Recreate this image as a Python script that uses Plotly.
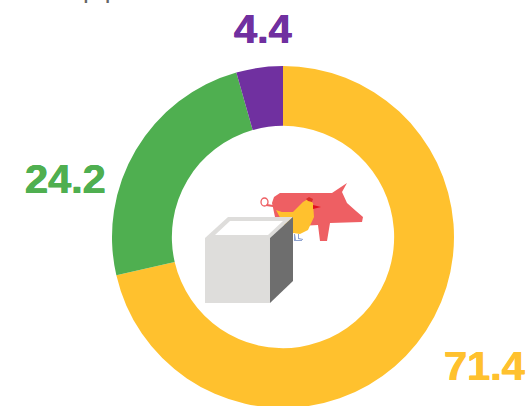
import plotly.graph_objects as go

W, H = 528, 408
labels = ["Yellow", "Green", "Purple"]
values = [71.4, 24.2, 4.4]
colors = ["#FFC12E", "#4FAF50", "#7030A0"]
value_text = ["71.4", "24.2", "4.4"]
text_pos = [(484, 365), (65, 178), (263, 29)]
clipped_title = "p p"
CX, CY, R = 283, 237, 171


def px(x):
    return x / W


def py(y):
    return 1 - y / H


def path(points):
    return "M " + " L ".join(f"{px(x):.5f},{py(y):.5f}" for x, y in points) + " Z"


def shape(points, fill):
    return dict(type="path", xref="paper", yref="paper", path=path(points),
                fillcolor=fill, line=dict(width=0), layer="above")


PIG = [(272, 203), (274, 197), (280, 193), (332, 193), (338, 189), (347, 183), (342, 192), (347, 203),
       (356, 211), (363, 217), (362, 222), (330, 223), (327, 241), (320, 241), (318, 225),
       (300, 226), (283, 224), (275, 217)]
CHICKEN_BODY = [(276, 210), (282, 212), (293, 212), (303, 202), (308, 199), (313, 203), (314, 217),
                (308, 230), (300, 234), (293, 233), (284, 225)]
BEAK = [(313, 205), (321, 207), (313, 209)]
COMB = [(306, 199), (309, 197), (313, 199), (312, 202), (308, 201)]
LEG_A = [(294, 234), (295, 234), (296, 240), (302, 240), (302, 241), (294, 241)]
LEG_B = [(298, 234), (299, 234), (299, 238), (303, 239), (303, 240), (298, 239)]
BOX_FRONT = [(205, 238), (270, 238), (270, 303), (205, 303)]
BOX_TOP = [(205, 238), (228, 217), (293, 217), (270, 238)]
BOX_TOP_IN = [(215, 235), (230, 221), (283, 221), (268, 235)]
BOX_SIDE = [(270, 238), (293, 217), (293, 281), (270, 303)]

shapes = [
    dict(type="circle", xref="paper", yref="paper", layer="above",
         x0=px(261), x1=px(268), y0=py(206), y1=py(198),
         line=dict(color="#EE5F63", width=1.3), fillcolor="rgba(0,0,0,0)"),
    shape([(267, 204), (273, 205), (273, 207), (266, 206)], "#EE5F63"),
    shape(PIG, "#EE5F63"),
    shape(LEG_A, "#8FA3D0"),
    shape(LEG_B, "#8FA3D0"),
    shape(CHICKEN_BODY, "#FFC12E"),
    shape(BEAK, "#E0101E"),
    shape(COMB, "#D8302A"),
    shape(BOX_FRONT, "#DEDDDB"),
    shape(BOX_TOP, "#DEDDDB"),
    shape(BOX_TOP_IN, "#FFFFFF"),
    shape(BOX_SIDE, "#6E6E6E"),
]

fig = go.Figure(go.Pie(
    labels=labels, values=values, hole=0.65, sort=False, direction="clockwise", rotation=0,
    marker=dict(colors=colors, line=dict(width=0)), textinfo="none", hoverinfo="label+value",
    showlegend=False,
    domain=dict(x=[px(CX - R), px(CX + R)], y=[0, py(CY - R)]),
))

annotations = [
    dict(text=t, x=px(x), y=py(y), xref="paper", yref="paper", showarrow=False,
         xanchor="center", yanchor="middle",
         font=dict(family="Liberation Sans", size=41.5, color=c, weight="bold",
                   shadow=f"0.4px 0 0 {c}, -0.4px 0 0 {c}"))
    for t, (x, y), c in zip(value_text, text_pos, colors)
]
annotations.append(dict(text=clipped_title, x=px(81), y=py(-11), xref="paper", yref="paper",
                        showarrow=False, xanchor="left", yanchor="middle",
                        font=dict(family="Liberation Sans", size=26, color="#666666")))

fig.update_layout(width=W, height=H, margin=dict(l=0, r=0, t=0, b=0),
                  paper_bgcolor="white", plot_bgcolor="white",
                  shapes=shapes, annotations=annotations)
fig.write_html("out.html", config=dict(displayModeBar=False),
               post_script="document.body.style.margin='0';document.body.style.overflow='hidden';")
